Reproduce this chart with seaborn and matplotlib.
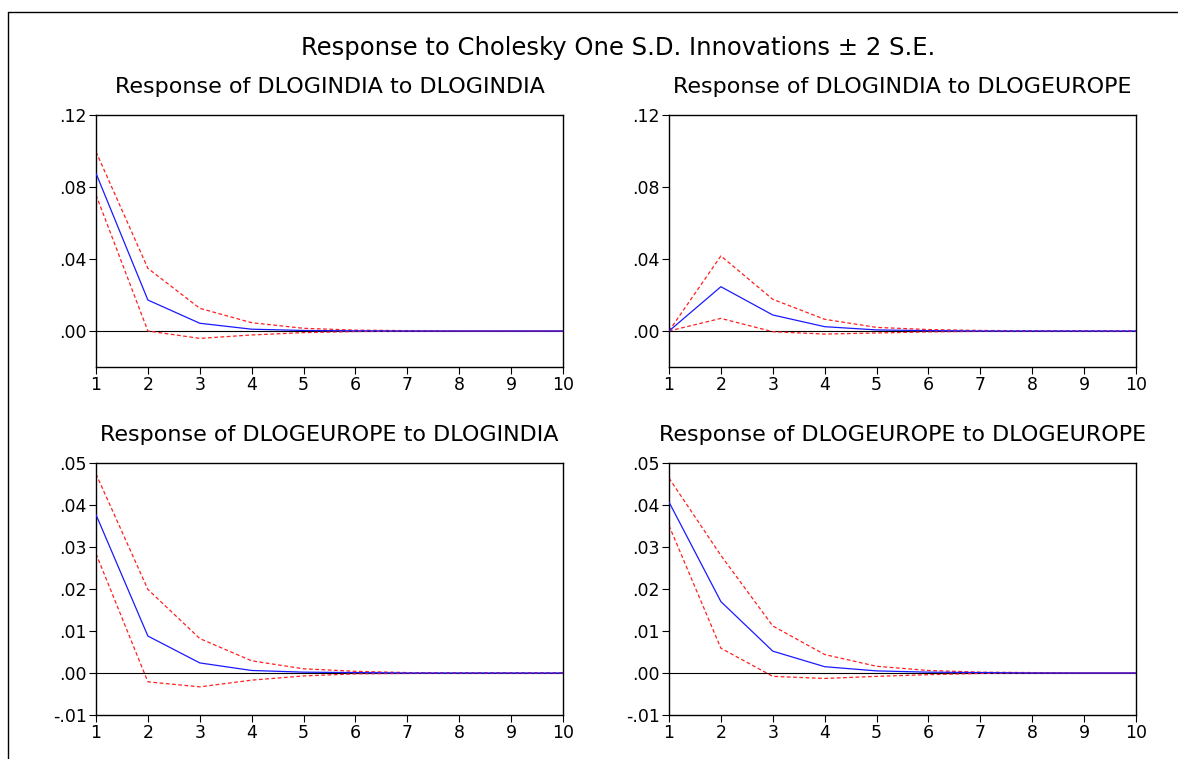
import numpy as np
import pandas as pd
import matplotlib
matplotlib.use("Agg")
import matplotlib.pyplot as plt
import seaborn as sns
from matplotlib.lines import Line2D
from matplotlib.ticker import FuncFormatter

sns.set_theme(style="white")
plt.rcParams['font.family'] = ['DejaVu Sans']

periods = [1, 2, 3, 4, 5, 6, 7, 8, 9, 10]

# Response of DLOGINDIA to DLOGINDIA
ii_resp = [0.0876, 0.0172, 0.0043, 0.0010, 0.0003, 0.0001, 0.0, 0.0, 0.0, 0.0]
ii_up = [0.0996, 0.0348, 0.0126, 0.0046, 0.0015, 0.0005, 0.0002, 0.0, 0.0, 0.0]
ii_lo = [0.0756, 0.0, -0.0041, -0.0022, -0.0009, -0.0003, -0.0001, 0.0, 0.0, 0.0]

# Response of DLOGINDIA to DLOGEUROPE
ie_resp = [0.0, 0.0246, 0.0089, 0.0024, 0.0006, 0.0002, 0.0, 0.0, 0.0, 0.0]
ie_up = [0.0, 0.0417, 0.0176, 0.0065, 0.0020, 0.0008, 0.0003, 0.0001, 0.0, 0.0]
ie_lo = [0.0, 0.0070, -0.0004, -0.0017, -0.0011, -0.0005, -0.0002, 0.0, 0.0, 0.0]

# Response of DLOGEUROPE to DLOGINDIA
ei_resp = [0.0377, 0.0088, 0.0024, 0.0006, 0.0002, 0.0001, 0.0, 0.0, 0.0, 0.0]
ei_up = [0.0474, 0.0199, 0.0082, 0.0029, 0.0010, 0.0004, 0.0001, 0.0, 0.0, 0.0]
ei_lo = [0.0284, -0.0021, -0.0033, -0.0017, -0.0007, -0.0002, -0.0001, 0.0, 0.0, 0.0]

# Response of DLOGEUROPE to DLOGEUROPE
ee_resp = [0.0407, 0.0170, 0.0052, 0.0015, 0.0005, 0.0002, 0.0001, 0.0, 0.0, 0.0]
ee_up = [0.0464, 0.0280, 0.0112, 0.0044, 0.0016, 0.0006, 0.0002, 0.0001, 0.0, 0.0]
ee_lo = [0.0351, 0.0059, -0.0008, -0.0013, -0.0008, -0.0004, -0.0001, 0.0, 0.0, 0.0]

titles = ["Response of DLOGINDIA to DLOGINDIA",
          "Response of DLOGINDIA to DLOGEUROPE",
          "Response of DLOGEUROPE to DLOGINDIA",
          "Response of DLOGEUROPE to DLOGEUROPE"]
main_title = "Response to Cholesky One S.D. Innovations \u00b1 2 S.E."

top_yticks = [0.00, 0.04, 0.08, 0.12]
bot_yticks = [-0.01, 0.00, 0.01, 0.02, 0.03, 0.04, 0.05]

panels = [
    (ii_resp, ii_up, ii_lo, (-0.02, 0.12), top_yticks),
    (ie_resp, ie_up, ie_lo, (-0.02, 0.12), top_yticks),
    (ei_resp, ei_up, ei_lo, (-0.01, 0.05), bot_yticks),
    (ee_resp, ee_up, ee_lo, (-0.01, 0.05), bot_yticks),
]

W, H = 1178, 759
fig = plt.figure(figsize=(W / 100, H / 100), dpi=100)
fig.patch.set_facecolor("white")

def box(x0, y0, x1, y1):
    return [x0 / W, 1 - y1 / H, (x1 - x0) / W, (y1 - y0) / H]

rects = [box(96, 115, 563, 367), box(669, 115, 1136, 367),
         box(96, 463, 563, 715), box(669, 463, 1136, 715)]

def fmt(v, pos):
    s = "%.2f" % v
    if s.startswith("0."):
        s = s[1:]
    elif s.startswith("-0."):
        s = "-" + s[2:]
    return s

for (resp, up, lo, ylim, yt), rect, title in zip(panels, rects, titles):
    ax = fig.add_axes(rect)
    ax.axhline(0, color="black", lw=0.8, zorder=1)
    sns.lineplot(x=periods, y=up, ax=ax, color="#ff2020", lw=0.9,
                 linestyle=(0, (3, 2)), zorder=2)
    sns.lineplot(x=periods, y=lo, ax=ax, color="#ff2020", lw=0.9,
                 linestyle=(0, (3, 2)), zorder=2)
    sns.lineplot(x=periods, y=resp, ax=ax, color="#1a1aff", lw=0.9, zorder=3)
    ax.set_xlim(1, 10)
    ax.set_ylim(*ylim)
    ax.set_xticks(periods)
    ax.set_yticks(yt)
    ax.yaxis.set_major_formatter(FuncFormatter(fmt))
    ax.tick_params(axis="both", direction="out", length=5, width=0.8,
                   colors="black", labelsize=12.5, pad=1.5, bottom=True, left=True)
    for sp in ax.spines.values():
        sp.set_visible(True)
        sp.set_color("black")
        sp.set_linewidth(1.0)
    ax.set_xlabel("")
    ax.set_ylabel("")
    ax.set_title(title, fontsize=16, pad=16, color="black")
    ax.grid(False)

fig.text(618 / W, 1 - 48 / H, main_title, ha="center", va="center",
         fontsize=17.5, color="black")

fig.add_artist(Line2D([8 / W, 1.0], [1 - 12 / H, 1 - 12 / H],
                      transform=fig.transFigure, color="black", lw=1.0))
fig.add_artist(Line2D([8 / W, 8 / W], [1 - 12 / H, 0.0],
                      transform=fig.transFigure, color="black", lw=1.0))

fig.savefig("out.png", dpi=100, facecolor="white")
